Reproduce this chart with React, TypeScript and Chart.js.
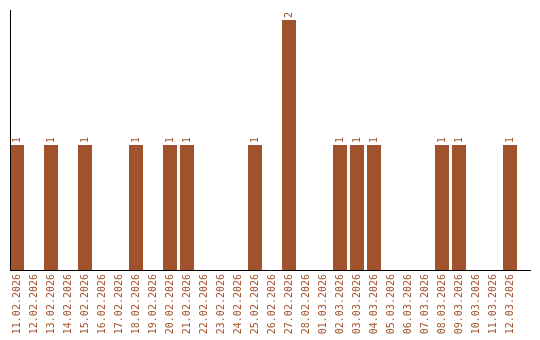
import React, { useEffect, useRef } from "react";
import { Chart, registerables } from "chart.js";

Chart.register(...registerables);

const dates = [
  "11.02.2026", "12.02.2026", "13.02.2026", "14.02.2026", "15.02.2026",
  "16.02.2026", "17.02.2026", "18.02.2026", "19.02.2026", "20.02.2026",
  "21.02.2026", "22.02.2026", "23.02.2026", "24.02.2026", "25.02.2026",
  "26.02.2026", "27.02.2026", "28.02.2026", "01.03.2026", "02.03.2026",
  "03.03.2026", "04.03.2026", "05.03.2026", "06.03.2026", "07.03.2026",
  "08.03.2026", "09.03.2026", "10.03.2026", "11.03.2026", "12.03.2026",
];
const counts = [
  1, 0, 1, 0, 1,
  0, 0, 1, 0, 1,
  1, 0, 0, 0, 1,
  0, 2, 0, 0, 1,
  1, 1, 0, 0, 0,
  1, 1, 0, 0, 1,
];

const SIENNA = "#a0522d";
const FONT = "'DejaVu Sans Mono', monospace";

const decorPlugin = {
  id: "decor",
  afterDatasetsDraw(chart: any) {
    const ctx = chart.ctx;
    const meta = chart.getDatasetMeta(0);
    const yScale = chart.scales.y;
    const bars = meta.data;
    if (!bars.length) return;
    const first = bars[0];
    const last = bars[bars.length - 1];
    const left = first.x - first.width / 2;
    const right = last.x + last.width / 2 + last.width;
    const base = yScale.getPixelForValue(0);
    ctx.save();
    // value labels
    ctx.fillStyle = SIENNA;
    ctx.font = "10px " + FONT;
    ctx.textAlign = "left";
    ctx.textBaseline = "middle";
    bars.forEach((bar: any, i: number) => {
      const v = counts[i];
      if (!v) return;
      ctx.save();
      ctx.translate(bar.x, bar.y - 2);
      ctx.rotate(-Math.PI / 2);
      ctx.fillText(String(v), 0, 0);
      ctx.restore();
    });
    // axis lines
    ctx.strokeStyle = "#000";
    ctx.lineWidth = 1;
    ctx.beginPath();
    ctx.moveTo(Math.round(left) + 0.5, chart.chartArea.top);
    ctx.lineTo(Math.round(left) + 0.5, Math.round(base) + 1);
    ctx.moveTo(Math.round(left), Math.round(base) + 0.5);
    ctx.lineTo(Math.round(right), Math.round(base) + 0.5);
    ctx.stroke();
    ctx.restore();
  },
};

export default function App() {
  const ref = useRef<HTMLCanvasElement>(null);
  useEffect(() => {
    document.body.style.margin = "0";
    const chart = new Chart(ref.current!, {
      type: "bar",
      data: {
        labels: dates,
        datasets: [
          {
            data: counts,
            backgroundColor: SIENNA,
            borderWidth: 0,
            categoryPercentage: 1,
            barPercentage: 14 / 17,
          },
        ],
      },
      options: {
        animation: false,
        responsive: false,
        maintainAspectRatio: false,
        layout: { padding: { left: 8.5, right: 21.5, top: 10, bottom: 0 } },
        plugins: { legend: { display: false }, tooltip: { enabled: false } },
        scales: {
          x: {
            offset: true,
            grid: { display: false, drawTicks: false },
            border: { display: false },
            ticks: {
              color: SIENNA,
              font: { family: FONT, size: 10 },
              minRotation: 90,
              maxRotation: 90,
              autoSkip: false,
              padding: 4,
            },
            afterFit: (scale: any) => {
              scale.height = 70;
            },
          },
          y: {
            display: false,
            min: 0,
            max: 2.08,
          },
        },
      },
      plugins: [decorPlugin],
    });
    return () => chart.destroy();
  }, []);
  return <canvas ref={ref} width={540} height={340} style={{ display: "block" }} />;
}
